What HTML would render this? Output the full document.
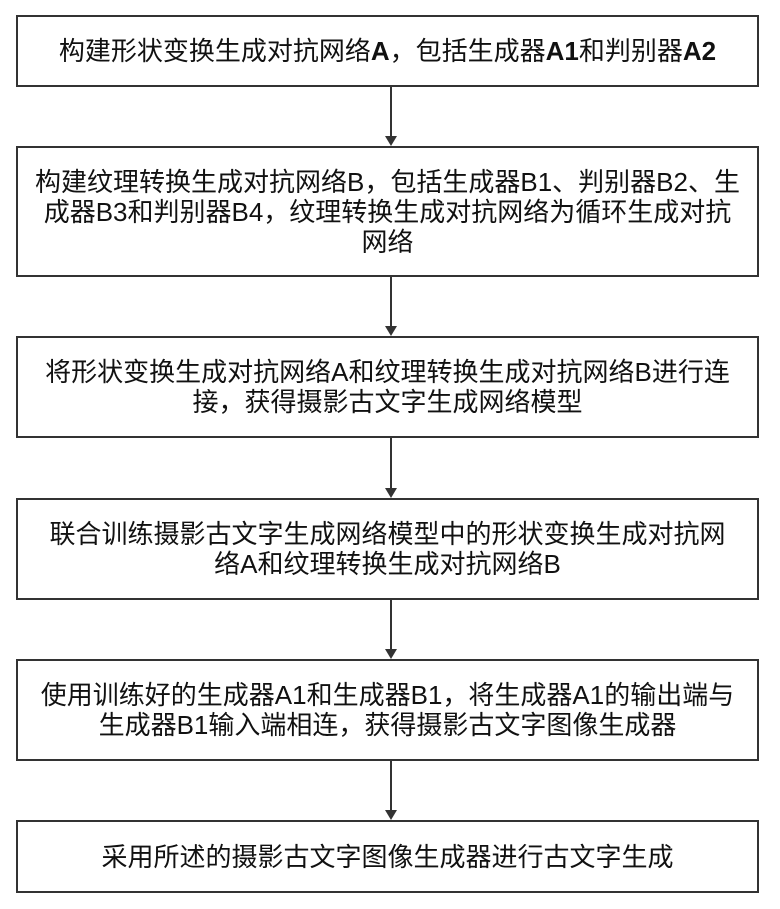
<!DOCTYPE html>
<html><head><meta charset="utf-8"><style>
body{margin:0;width:780px;height:909px;background:#fff;position:relative;overflow:hidden;font-family:"Liberation Sans","Noto Sans CJK SC","WenQuanYi Zen Hei",sans-serif;color:#111}
.b{position:absolute;left:16px;width:743px;border:2px solid #333;box-sizing:border-box;display:flex;align-items:center;justify-content:center;text-align:center;font-size:26px;line-height:30px;white-space:nowrap}
.l{position:absolute;left:390px;width:2px;background:#333}
.a{position:absolute;left:385px;width:0;height:0;border-left:6px solid transparent;border-right:6px solid transparent;border-top:10px solid #333}
</style></head><body>
<div class="b" style="top:15px;height:72px">构建形状变换生成对抗网络<b>A</b>，包括生成器<b>A1</b>和判别器<b>A2</b></div>
<div class="l" style="top:87px;height:50px"></div><div class="a" style="top:136px"></div>
<div class="b" style="top:146px;height:131px">构建纹理转换生成对抗网络B，包括生成器B1、判别器B2、生<br>成器B3和判别器B4，纹理转换生成对抗网络为循环生成对抗<br>网络</div>
<div class="l" style="top:277px;height:50px"></div><div class="a" style="top:326px"></div>
<div class="b" style="top:336px;height:102px">将形状变换生成对抗网络A和纹理转换生成对抗网络B进行连<br>接，获得摄影古文字生成网络模型</div>
<div class="l" style="top:438px;height:51px"></div><div class="a" style="top:488px"></div>
<div class="b" style="top:498px;height:102px">联合训练摄影古文字生成网络模型中的形状变换生成对抗网<br>络A和纹理转换生成对抗网络B</div>
<div class="l" style="top:600px;height:50px"></div><div class="a" style="top:649px"></div>
<div class="b" style="top:659px;height:102px">使用训练好的生成器A1和生成器B1，将生成器A1的输出端与<br>生成器B1输入端相连，获得摄影古文字图像生成器</div>
<div class="l" style="top:761px;height:50px"></div><div class="a" style="top:810px"></div>
<div class="b" style="top:820px;height:73px">采用所述的摄影古文字图像生成器进行古文字生成</div>
</body></html>
